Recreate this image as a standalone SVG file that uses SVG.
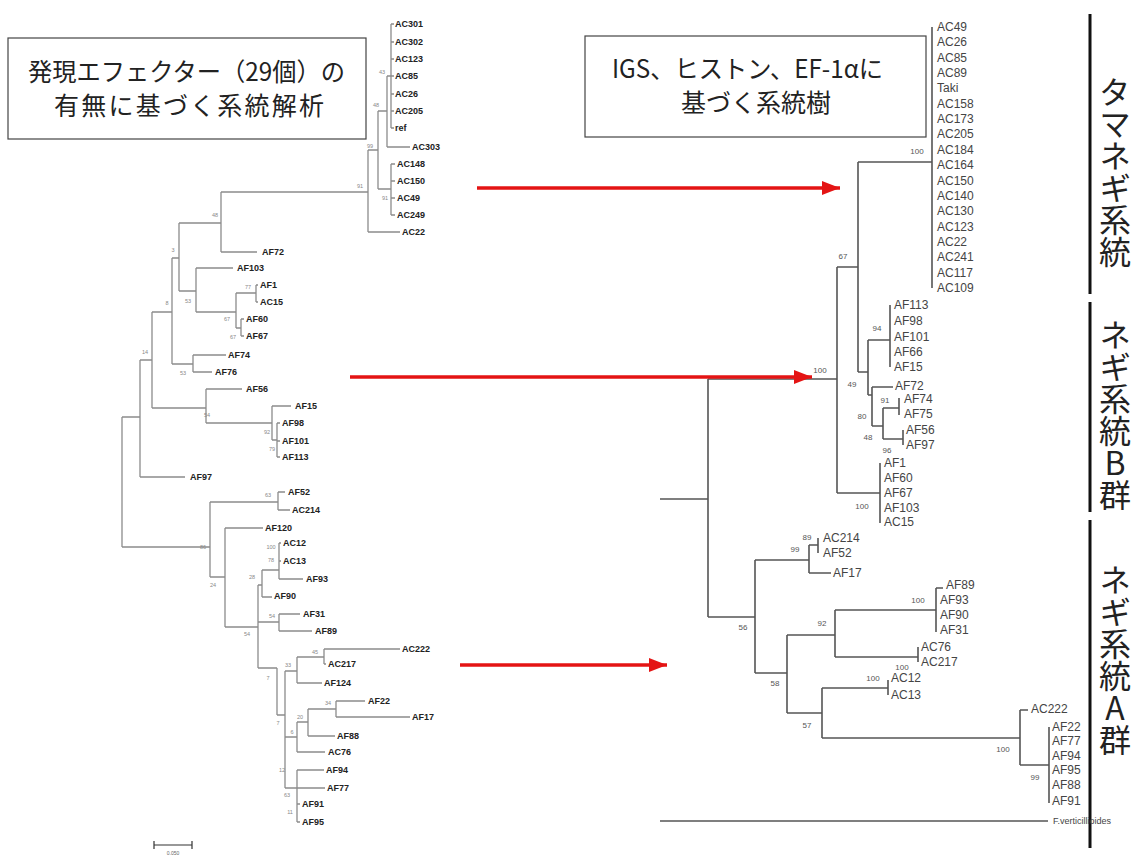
<svg xmlns="http://www.w3.org/2000/svg" width="1137" height="859" viewBox="0 0 1137 859">
<defs>
<marker id="ah" markerUnits="userSpaceOnUse" markerWidth="18" markerHeight="14" refX="18" refY="7" orient="auto">
<path d="M0,0 L18,7 L0,14 z" fill="#e41414"/>
</marker>
<style>
.lt{stroke:#8c8c8c;stroke-width:1.3;fill:none}
.rt{stroke:#555;stroke-width:1.6;fill:none}
.ll{font-family:"Liberation Sans",Arial,sans-serif;font-weight:bold;font-size:9px;fill:#222}
.ls{font-family:"Liberation Sans",Arial,sans-serif;font-size:5.5px;fill:#888;text-anchor:middle}
.rl{font-family:"Liberation Sans",Arial,sans-serif;font-size:12px;fill:#444}
.rs{font-family:"Liberation Sans",Arial,sans-serif;font-size:8px;fill:#555;text-anchor:middle}
.box{fill:#fff;stroke:#444;stroke-width:1.2}
.jp{font-family:"Noto Sans CJK JP","Noto Sans CJK SC",sans-serif;fill:#222;font-size:25px}
.vt{font-family:"Noto Sans CJK JP","Noto Sans CJK SC",sans-serif;fill:#222;font-size:32px;writing-mode:vertical-rl;text-orientation:upright;text-anchor:middle}
.ar{stroke:#e41414;stroke-width:3.5;fill:none;marker-end:url(#ah)}
.bar{stroke:#111;stroke-width:3;fill:none}
</style>
</defs>
<rect width="1137" height="859" fill="#fff"/>

<g id="connectors">
<path class="lt" d="M391 24V128M391 24h3M391 42h3M391 59h3M391 76h3M391 94h3M391 111h3M391 128h3M387 76H391M387 76V147M387 147H410M378 111H387M378 111V189M378 189H391M391 164V215M391 164h4M391 181h4M391 198h4M391 215h4M368 150H378M368 150V232M368 232H400M221 192H368M221 192V252M221 252H257M179 223H221M179 223V291M179 291H196M196 268V312M196 268H233M196 312H236M236 293V328M236 293H256M256 285V302M256 285h2M256 302h2M236 328H241M241 319V336M241 319h3M241 336h3M172 258H179M172 258V364M172 364H193M193 355V372M193 355H226M193 372H212M152 312H172M152 312V408M152 408H206M206 389V423M206 389H242M206 423H272M272 406V440M272 406H291M272 440H277M277 423V457M277 423h3M277 441h3M277 457h3M140 360H152M140 360V477M140 477H185M122 417H140M122 417V547M122 547H210M210 502V577M210 502H278M278 492V510M278 492h7M278 510h12M210 577H225M225 528V627M225 528H263M225 627H258M258 585V668M258 585H262M262 570V597M262 570H279M262 597H272M279 543V579M279 543h2M279 561h2M279 579H303M258 622H279M279 614V631M279 614H300M279 631H312M258 668H277M277 668V715M277 715H285M285 671V788M285 671H297M297 657V683M297 657H324M324 649V664M324 649H400M324 664h2M297 683H322M285 737H297M297 722V752M297 722H308M308 709V736M308 709H336M336 701V717M336 701H365M336 717H410M308 736H335M297 752H325M285 788H325M297 770V822M297 770H324M297 804H300M297 822H300"/>
<path class="rt" d="M932 27V288M858 162H932M858 162V372M837 267H858M837 267V493M708 379H837M858 372H868M868 340V395M868 340H890M890 305V367M868 395H872M872 387V426M872 387H893M872 426H883M883 408V439M883 408H899M899 398V415M883 439H903M903 430V445M837 493H880M880 463V523M708 379V617M660 499H708M708 617H755M755 560V673M755 560H809M809 545V573M809 545H818M818 538V553M809 573H831M755 673H787M787 635V713M787 635H835M835 610V657M835 610H936M936 588V632M936 588H943M835 657H918M918 647V662M787 713H822M822 688V738M822 688H888M888 680V695M822 738H1020M1020 710V765M1020 710H1028M1020 765H1049M1049 727V803M660 821H1048"/>
<path d="M154 845H192M154 841V849M192 841V849" stroke="#333" stroke-width="1.2" fill="none"/>
<line class="ar" x1="477" y1="188" x2="840" y2="188"/>
<line class="ar" x1="350" y1="377" x2="812" y2="377"/>
<line class="ar" x1="460" y1="665" x2="667" y2="665"/>
<path class="bar" d="M1090 14V294M1090 302V512M1090 520V848"/>
</g>

<g id="box-left">
<rect class="box" x="8" y="38" width="358" height="101"/>
<text class="jp" x="28" y="81" textLength="317" lengthAdjust="spacingAndGlyphs">発現エフェクター（29個）の</text>
<text class="jp" x="54" y="115" textLength="270" lengthAdjust="spacing">有無に基づく系統解析</text>
</g>
<g id="box-right">
<rect class="box" x="585" y="36" width="341" height="101"/>
<text class="jp" x="612" y="78" textLength="271" lengthAdjust="spacingAndGlyphs">IGS、ヒストン、EF-1αに</text>
<text class="jp" x="756" y="112" text-anchor="middle">基づく系統樹</text>
</g>

<g id="group-labels">
<text class="vt" x="1115" y="172">タマネギ系統</text>
<text class="vt" x="1115" y="415">ネギ系統B群</text>
<text class="vt" x="1115" y="660">ネギ系統A群</text>
</g>

<g id="left-tree-leaves" class="ll">
<text x="395" y="27">AC301</text><text x="395" y="45">AC302</text><text x="395" y="62">AC123</text><text x="395" y="79">AC85</text><text x="395" y="97">AC26</text><text x="395" y="114">AC205</text><text x="395" y="131">ref</text><text x="412" y="150">AC303</text><text x="397" y="167">AC148</text><text x="397" y="184">AC150</text><text x="397" y="201">AC49</text><text x="397" y="218">AC249</text><text x="402" y="235">AC22</text>
<text x="262" y="255">AF72</text><text x="237" y="271">AF103</text><text x="260" y="288">AF1</text><text x="260" y="305">AC15</text><text x="246" y="322">AF60</text><text x="246" y="339">AF67</text><text x="228" y="358">AF74</text><text x="215" y="375">AF76</text><text x="246" y="392">AF56</text><text x="295" y="409">AF15</text><text x="282" y="426">AF98</text><text x="282" y="444">AF101</text><text x="282" y="460">AF113</text><text x="190" y="480">AF97</text>
<text x="288" y="495">AF52</text><text x="292" y="513">AC214</text><text x="265" y="531">AF120</text><text x="283" y="546">AC12</text><text x="283" y="564">AC13</text><text x="306" y="582">AF93</text><text x="274" y="599">AF90</text><text x="303" y="617">AF31</text><text x="315" y="634">AF89</text><text x="402" y="652">AC222</text><text x="328" y="667">AC217</text><text x="324" y="686">AF124</text><text x="368" y="704">AF22</text><text x="412" y="720">AF17</text><text x="337" y="739">AF88</text><text x="328" y="755">AC76</text><text x="326" y="773">AF94</text><text x="327" y="791">AF77</text><text x="302" y="807">AF91</text><text x="302" y="825">AF95</text>
</g>
<g id="left-tree-support" class="ls">
<text x="382" y="74">43</text><text x="376" y="107">48</text><text x="370" y="148">99</text><text x="360" y="188">91</text><text x="385" y="200">91</text><text x="215" y="217">48</text><text x="173" y="252">3</text><text x="248" y="289">77</text><text x="188" y="303">53</text><text x="167" y="305">8</text><text x="227" y="321">67</text><text x="233" y="339">67</text><text x="145" y="354">14</text><text x="183" y="375">53</text><text x="207" y="417">54</text><text x="267" y="434">92</text><text x="272" y="451">79</text><text x="268" y="497">63</text><text x="203" y="549">86</text><text x="271" y="549">100</text><text x="271" y="562">78</text><text x="252" y="579">28</text><text x="213" y="587">24</text><text x="272" y="618">54</text><text x="247" y="636">54</text><text x="315" y="654">45</text><text x="288" y="667">33</text><text x="268" y="680">7</text><text x="328" y="705">34</text><text x="300" y="719">20</text><text x="278" y="725">7</text><text x="292" y="734">6</text><text x="282" y="772">12</text><text x="287" y="797">63</text><text x="290" y="814">11</text>
</g>
<g id="scale"><text x="173" y="855" font-family="Liberation Sans, sans-serif" font-size="5" fill="#666" text-anchor="middle">0.050</text></g>

<g id="right-tree-leaves" class="rl">
<text x="937" y="31">AC49</text><text x="937" y="46">AC26</text><text x="937" y="62">AC85</text><text x="937" y="77">AC89</text><text x="937" y="92">Taki</text><text x="937" y="108">AC158</text><text x="937" y="123">AC173</text><text x="937" y="138">AC205</text><text x="937" y="154">AC184</text><text x="937" y="169">AC164</text><text x="937" y="185">AC150</text><text x="937" y="200">AC140</text><text x="937" y="215">AC130</text><text x="937" y="231">AC123</text><text x="937" y="246">AC22</text><text x="937" y="261">AC241</text><text x="937" y="277">AC117</text><text x="937" y="292">AC109</text>
<text x="894" y="309">AF113</text><text x="894" y="325">AF98</text><text x="894" y="341">AF101</text><text x="894" y="356">AF66</text><text x="894" y="371">AF15</text><text x="895" y="390">AF72</text><text x="904" y="403">AF74</text><text x="904" y="418">AF75</text><text x="906" y="434">AF56</text><text x="906" y="449">AF97</text><text x="884" y="467">AF1</text><text x="884" y="482">AF60</text><text x="884" y="497">AF67</text><text x="884" y="512">AF103</text><text x="884" y="526">AC15</text>
<text x="823" y="542">AC214</text><text x="823" y="557">AF52</text><text x="833" y="577">AF17</text><text x="946" y="589">AF89</text><text x="940" y="604">AF93</text><text x="940" y="619">AF90</text><text x="940" y="634">AF31</text><text x="921" y="651">AC76</text><text x="921" y="666">AC217</text><text x="891" y="682">AC12</text><text x="891" y="699">AC13</text><text x="1031" y="713">AC222</text><text x="1052" y="731">AF22</text><text x="1052" y="745">AF77</text><text x="1052" y="760">AF94</text><text x="1052" y="774">AF95</text><text x="1052" y="789">AF88</text><text x="1052" y="805">AF91</text>
<text x="1053" y="824" font-size="9">F.verticillioides</text>
</g>
<g id="right-tree-support" class="rs">
<text x="917" y="154">100</text><text x="843" y="259">67</text><text x="877" y="331">94</text><text x="820" y="373">100</text><text x="852" y="387">49</text><text x="885" y="403">91</text><text x="862" y="419">80</text><text x="868" y="440">48</text><text x="887" y="453">96</text><text x="862" y="509">100</text><text x="807" y="540">89</text><text x="795" y="552">99</text><text x="918" y="603">100</text><text x="822" y="626">92</text><text x="743" y="630">56</text><text x="902" y="670">100</text><text x="873" y="681">100</text><text x="775" y="686">58</text><text x="807" y="728">57</text><text x="1003" y="752">100</text><text x="1035" y="780">99</text>
</g>
</svg>
